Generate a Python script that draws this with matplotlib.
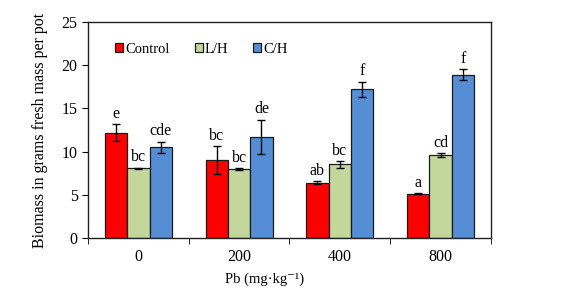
import numpy as np
import matplotlib.pyplot as plt

plt.rcParams['font.family'] = ['Liberation Serif', 'DejaVu Serif']

groups = ["0", "200", "400", "800"]
series = ["Control", "L/H", "C/H"]
colors = ["#ff0000", "#c3d69b", "#558ed5"]

control = [12.2, 9.0, 6.4, 5.1]
lh = [8.05, 7.95, 8.5, 9.6]
ch = [10.5, 11.7, 17.2, 18.9]

control_err = [0.95, 1.6, 0.2, 0.05]
lh_err = [0.1, 0.1, 0.35, 0.25]
ch_err = [0.65, 2.0, 0.9, 0.65]

control_lbl = ["e", "bc", "ab", "a"]
lh_lbl = ["bc", "bc", "bc", "cd"]
ch_lbl = ["cde", "de", "f", "f"]

values = [control, lh, ch]
errors = [control_err, lh_err, ch_err]
labels = [control_lbl, lh_lbl, ch_lbl]

fig = plt.figure(figsize=(5.61, 2.93), dpi=100)
ax = fig.add_axes([0.157, 0.188, 0.718, 0.737])

x = np.arange(len(groups))
w = 0.222
for i in range(3):
    pos = x + (i - 1) * w
    ax.bar(pos, values[i], w, color=colors[i], edgecolor="#1a1a1a",
           linewidth=0.9, label=series[i], zorder=2)
    ax.errorbar(pos, values[i], yerr=errors[i], fmt="none", ecolor="black",
                elinewidth=1, capsize=3, capthick=1, zorder=3)
    for p, v, e, t in zip(pos, values[i], errors[i], labels[i]):
        ax.text(p, v + e + 0.25, t, ha="center", va="bottom", fontsize=11.5)

ax.set_xlim(-0.5, 3.5)
ax.set_ylim(0, 25)
ax.set_yticks([0, 5, 10, 15, 20, 25])
ax.set_xticks(x)
ax.set_xticklabels(groups)
ax.set_xticks(np.arange(-0.5, 4, 1), minor=True)
ax.tick_params(axis="x", which="major", length=0, pad=8, labelsize=11.5)
ax.tick_params(axis="x", which="minor", length=4, direction="out")
ax.tick_params(axis="y", length=4, labelsize=11.5)
for s in ax.spines.values():
    s.set_linewidth(1)
    s.set_color("#222222")

ax.set_ylabel("Biomass in grams fresh mass per pot", fontsize=11.5)
ax.yaxis.set_label_coords(-0.10, 0.5)
ax.set_xlabel("Pb (mg\u00b7kg\u207b\u00b9)", fontsize=10.5)
ax.xaxis.set_label_coords((265 - 88) / 403, -0.16)

ax.legend(loc="upper left", ncol=3, frameon=False, fontsize=10.5,
          handlelength=0.55, handleheight=0.55, handletextpad=0.15,
          columnspacing=1.7, bbox_to_anchor=(0.035, 0.965))

fig.savefig("out.png", dpi=100)
